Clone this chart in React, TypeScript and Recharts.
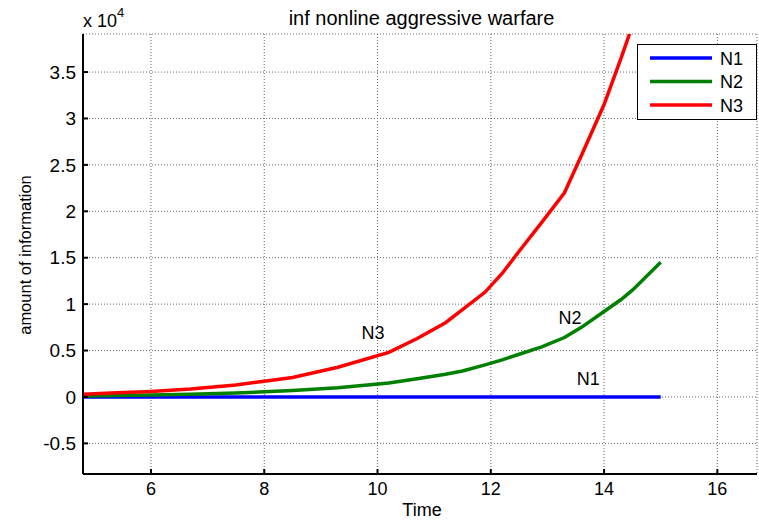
import { LineChart, Line, XAxis, YAxis, CartesianGrid, ReferenceDot } from 'recharts';

const time = [4.8, 5.4, 6, 6.7, 7.5, 8, 8.5, 9.3, 10.2, 10.7, 11.2, 11.5, 11.9, 12.2, 12.5, 12.9, 13.3, 13.6, 14, 14.3, 14.5, 15];
const n1 = [0, 0, 0, 0, 0, 0, 0, 0, 0, 0, 0, 0, 0, 0, 0, 0, 0, 0, 0, 0, 0, 0];
const n2 = [100, 150, 200, 300, 420, 550, 700, 1000, 1500, 1950, 2450, 2800, 3450, 4000, 4600, 5400, 6400, 7500, 9200, 10500, 11500, 14500];
const n3 = [300, 450, 600, 850, 1300, 1700, 2100, 3200, 4800, 6300, 8000, 9400, 11300, 13300, 15700, 18800, 22000, 26000, 31500, 36500, 40000, 52000];

const xTicks = [6, 8, 10, 12, 14, 16];
const yTicks = [-5000, 0, 5000, 10000, 15000, 20000, 25000, 30000, 35000];
const xDomain = [4.8, 16.7];
const yDomain = [-8300, 39100];

const series = [
  { key: 'N1', color: '#0000ff' },
  { key: 'N2', color: '#008000' },
  { key: 'N3', color: '#ff0000' },
];

// in-plot curve labels
const curveLabels = [
  { text: 'N3', x: 9.92, y: 6900 },
  { text: 'N2', x: 13.4, y: 8600 },
  { text: 'N1', x: 13.72, y: 2000 },
];

const data = time.map((t, i) => ({ t, N1: n1[i], N2: n2[i], N3: n3[i] }));

const FONT = '"Liberation Sans", Arial, sans-serif';

export default function App() {
  return (
    <div style={{ position: 'absolute', left: 0, top: 0, width: 759, height: 522, background: '#fff', fontFamily: FONT }}>
      <LineChart width={759} height={522} data={data} margin={{ top: 34, right: 2, bottom: 0, left: 0 }}>
        <CartesianGrid stroke="#666" strokeDasharray="1 2" />
        <XAxis
          dataKey="t"
          type="number"
          domain={xDomain}
          ticks={xTicks}
          allowDataOverflow
          height={48}
          stroke="#000"
          strokeWidth={2}
          tickSize={-5}
          tickMargin={13}
          tick={{ fill: '#000', fontSize: 18, fontFamily: FONT }}
        />
        <XAxis
          xAxisId="top"
          orientation="top"
          dataKey="t"
          type="number"
          domain={xDomain}
          ticks={xTicks}
          allowDataOverflow
          height={0}
          stroke="#000"
          tickSize={-5}
          tickFormatter={() => ''}
        />
        <YAxis
          type="number"
          domain={yDomain}
          ticks={yTicks}
          allowDataOverflow
          width={83}
          stroke="#000"
          strokeWidth={2}
          tickSize={-5}
          tickMargin={12}
          tick={{ fill: '#000', fontSize: 19, fontFamily: FONT }}
          tickFormatter={(v: number) => `${v / 10000}`}
        />
        <YAxis
          yAxisId="right"
          orientation="right"
          type="number"
          domain={yDomain}
          ticks={yTicks}
          allowDataOverflow
          width={0}
          stroke="#000"
          tickSize={-5}
          tickFormatter={() => ''}
        />
        {series.map((s) => (
          <Line
            key={s.key}
            dataKey={s.key}
            stroke={s.color}
            strokeWidth={3.5}
            dot={false}
            isAnimationActive={false}
          />
        ))}
        {curveLabels.map((l) => (
          <ReferenceDot
            key={l.text}
            x={l.x}
            y={l.y}
            r={0}
            stroke="none"
            label={{ value: l.text, position: 'center', fill: '#000', fontSize: 18, fontFamily: FONT }}
          />
        ))}
      </LineChart>
      <svg width={759} height={522} style={{ position: 'absolute', left: 0, top: 0, pointerEvents: 'none' }} fontFamily={FONT}>
        <text x={421.5} y={25} textAnchor="middle" fontSize={20}>inf nonline aggressive warfare</text>
        <text x={83} y={27} fontSize={18}>
          x 10<tspan fontSize={13} dy={-10}>4</tspan>
        </text>
        <text x={422} y={516} textAnchor="middle" fontSize={18}>Time</text>
        <text transform="translate(31,255) rotate(-90)" textAnchor="middle" fontSize={16.5}>amount of information</text>
        <rect x={637.5} y={44.5} width={119} height={75} fill="#fff" stroke="#000" strokeWidth={1} />
        {series.map((s, i) => {
          const cy = 58 + i * 23.5;
          return (
            <g key={s.key}>
              <line x1={650} x2={712} y1={cy} y2={cy} stroke={s.color} strokeWidth={3.5} />
              <text x={720} y={cy + 6.5} fontSize={18}>{s.key}</text>
            </g>
          );
        })}
      </svg>
    </div>
  );
}
